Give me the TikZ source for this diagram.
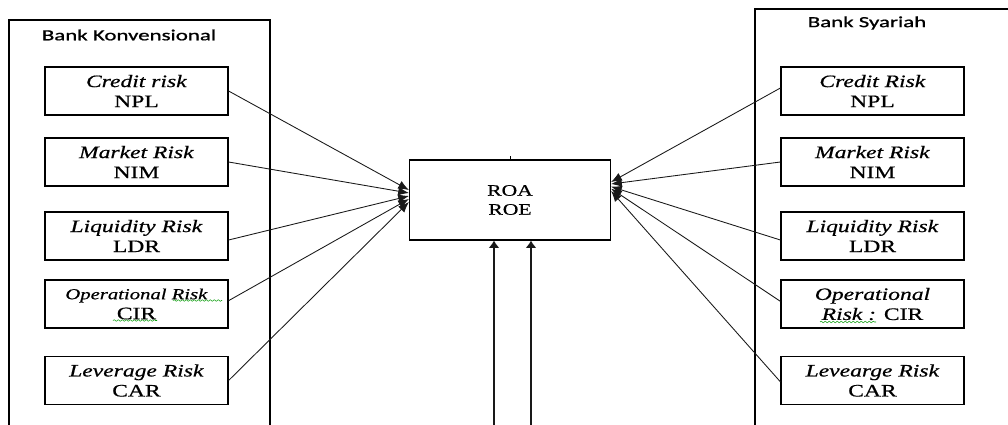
\documentclass[tikz,border=0pt]{standalone}
\usepackage{fontspec}
\setmainfont{Liberation Serif}[FakeStretch=1.35,FakeBold=0.6]
\newfontfamily\bankfont{Carlito}[FakeStretch=1.48,FakeBold=1]
\usetikzlibrary{arrows.meta,decorations.pathmorphing}
\tikzset{
  riskbox/.style={draw, line width=0.9pt, minimum width=137.25pt, minimum height=36pt,
    inner sep=0pt, align=center, font=\fontsize{13.1pt}{15pt}\selectfont},
  outerbox/.style={draw, line width=0.9pt},
  arr/.style={-{Latex[length=8pt,width=6.5pt]}, line width=0.65pt, draw=black!90},
  uparr/.style={-{Latex[length=5.5pt,width=8pt]}, line width=0.8pt, draw=black!90},
  squig/.style={draw=green!60!black, line width=0.4pt, decorate,
    decoration={snake, amplitude=0.6pt, segment length=3pt}},
  banklabel/.style={font=\bankfont\fontsize{11.6pt}{13pt}\selectfont, inner sep=0pt}
}
\begin{document}
\begin{tikzpicture}[x=0.75pt,y=-0.75pt]
\useasboundingbox (0,0) rectangle (1008,425);
% outer group boxes
\draw[outerbox] (9,425) -- (9,20) -- (270,20) -- (270,425);
\draw[outerbox] (755,425) -- (755,9) -- (1010,9);
\node[banklabel] (bk) at (129,35) {Bank Konvensional};
\node[banklabel] (bs) at (867,23) {Bank Syariah};
% left boxes
\node[riskbox] (lc) at (136.5,91) {\textit{Credit risk}\\NPL};
\node[riskbox] (lm) at (136.5,162) {\textit{Market Risk}\\NIM};
\node[riskbox] (ll) at (136.5,236) {\textit{Liquidity Risk}\\LDR};
\node[riskbox] (lo) at (136.5,304) {{\fontsize{11.5pt}{15pt}\selectfont\textit{Operational Risk}}\\CIR};
\node[riskbox] (lv) at (136.5,380.5) {\textit{Leverage Risk}\\CAR};
% right boxes
\node[riskbox] (rc) at (872.5,91) {\textit{Credit Risk}\\NPL};
\node[riskbox] (rm) at (872.5,162) {\textit{Market Risk}\\NIM};
\node[riskbox] (rl) at (872.5,236) {\textit{Liquidity Risk}\\LDR};
\node[riskbox] (ro) at (872.5,304) {\textit{Operational}\\\textit{Risk :} CIR};
\node[riskbox] (rv) at (872.5,380.5) {\textit{Levearge Risk}\\CAR};
% centre
\node[draw, line width=0.9pt, minimum width=150.75pt, minimum height=60pt, inner sep=0pt,
  align=center, font=\fontsize{12pt}{14.25pt}\selectfont] (roa) at (510,200) {ROA\\ROE};
\draw[line width=0.5pt] (roa.north) -- ([yshift=2.5pt]roa.north);
% left connectors
\draw[arr] (lc.east) -- ([yshift=7.5pt]roa.west);
\draw[arr] (lm.east) -- ([yshift=5.25pt]roa.west);
\draw[arr] ([yshift=-3pt]ll.east) -- ([yshift=3pt]roa.west);
\draw[arr] ([yshift=2.5pt]lo.east) -- ([yshift=0.75pt]roa.west);
\draw[arr] (lv.east) -- ([yshift=-1.5pt]roa.west);
% right connectors
\draw[arr] ([yshift=2.25pt]rc.west) -- ([yshift=13.5pt]roa.east);
\draw[arr] (rm.west) -- ([yshift=12pt]roa.east);
\draw[arr] ([yshift=-3pt]rl.west) -- ([yshift=10pt]roa.east);
\draw[arr] ([yshift=2pt]ro.west) -- ([yshift=8.5pt]roa.east);
\draw[arr] ([yshift=-1pt]rv.west) -- ([yshift=6.75pt]roa.east);
% bottom connectors
\coordinate (b1) at (494,426);
\coordinate (b2) at (531,426);
\draw[uparr] (b1) -- (b1 |- roa.south);
\draw[uparr] (b2) -- (b2 |- roa.south);
% spell-check squiggles
\draw[squig] (173,300.5) -- (222,300.5);
\draw[squig] (113,320.5) -- (157,320.5);
\draw[squig] (820,322) -- (876,322);
\end{tikzpicture}
\end{document}
